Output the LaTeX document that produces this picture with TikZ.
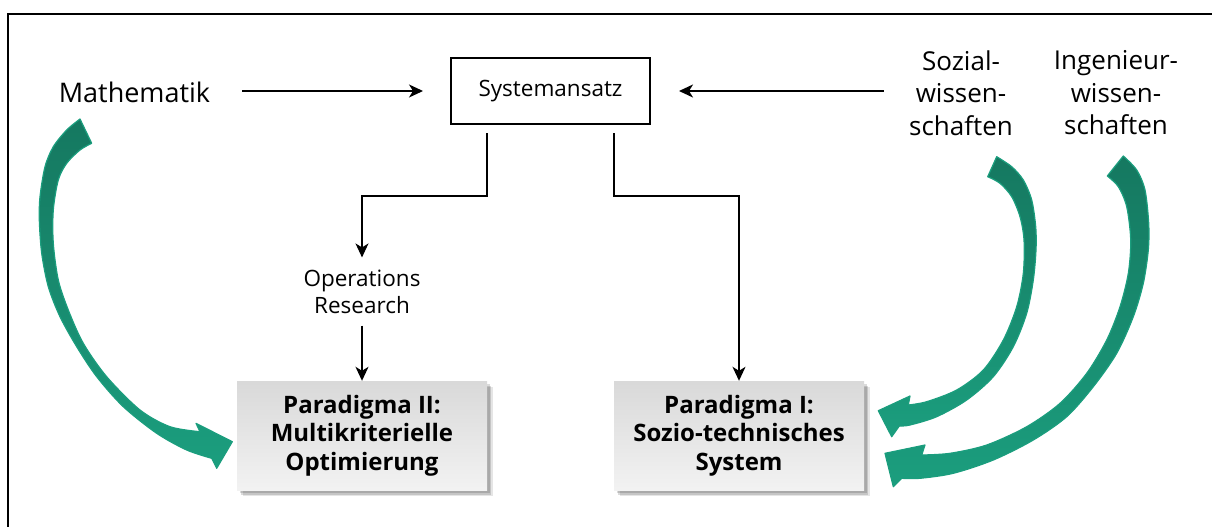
\documentclass[tikz,border=0pt]{standalone}
\usepackage{fontspec}
\setmainfont{Open Sans}
\usetikzlibrary{arrows.meta,shadows}
\definecolor{tealdark}{RGB}{21,120,96}
\definecolor{teallight}{RGB}{27,158,126}
\begin{document}
\begin{tikzpicture}[x=1pt,y=-1pt,
  conn/.style={line width=1.5pt,-{Stealth[length=14pt,width=13pt,inset=4pt]}},
  plain/.style={inner sep=0pt,align=center},
  bigtext/.style={plain,font=\fontsize{26}{32.5}\selectfont},
  midtext/.style={plain,font=\fontsize{22.5}{27}\selectfont},
  pbox/.style={minimum width=250pt,minimum height=109pt,inner sep=0pt,align=center,
    font=\bfseries\fontsize{24}{28.5}\selectfont,
    top color=black!15,bottom color=black!5,
    drop shadow={shadow xshift=2.5pt,shadow yshift=-3pt,opacity=0.14,fill=black},
    drop shadow={shadow xshift=4pt,shadow yshift=-4.5pt,opacity=0.14,fill=black},
    drop shadow={shadow xshift=5.5pt,shadow yshift=-6pt,opacity=0.10,fill=black}},
  greenarrow/.style={top color=tealdark,bottom color=teallight,draw=teallight,
    line width=1.2pt,line join=round},
  curve/.style={smooth,tension=0.5}
]
\useasboundingbox (0,0) rectangle (1212,527);

% frame
\draw[line width=2pt] (8.2,528) -- (8.2,14.3) -- (1213,14.3);

% nodes
\node[plain,font=\fontsize{27}{32}\selectfont,inner xsep=32pt] (math) at (134.5,92) {Mathematik};
\node[draw,line width=2pt,minimum width=199pt,minimum height=66pt,
      font=\fontsize{22.5}{27}\selectfont] (sys) at (550.5,91) {Systemansatz};
\node[bigtext] (soz) at (961,93) {Sozial-\\wissen-\\schaften};
\node[bigtext] (ing) at (1116,93) {Ingenieur-\\wissen-\\schaften};
\node[midtext,inner ysep=12pt] (or) at (362,291.5) {Operations\\Research};
\node[pbox] (p2) at (362,435.5) {Paradigma II:\\Multikriterielle\\Optimierung};
\node[pbox] (p1) at (739,435.5) {Paradigma I:\\Sozio-technisches\\System};

% connectors
\draw[conn,shorten >=27pt] (math.east |- sys.west) -- (sys.west);
\draw[conn,shorten <=25pt,shorten >=28pt] (sys.east -| soz.west) -- (sys.east);
\draw[conn,shorten <=8pt] ([xshift=-63.5pt]sys.south) -- ++(0,71) -| (or.north);
\draw[conn] (or.south) -- (p2.north);
\draw[conn,shorten <=8pt] ([xshift=63.5pt]sys.south) -- ++(0,71) -| (p1.north);

% curved green arrows
\shadedraw[greenarrow]
  plot[curve] coordinates {(80,119) (66.7,130) (53.3,146.7) (45,166.7) (40,196.7) (39.3,220) (41.7,253.3)
    (48.3,286.7) (60,316.7) (76.7,346.7) (96.7,376.7) (123.3,406.7) (156.7,433.3) (186.7,450) (211.7,458.3)}
  -- (216.7,468.3) -- (232.3,441.7) -- (196,423.3) -- (200,431.7)
  -- plot[curve] coordinates {(200,431.7) (170,426.7) (140,410) (106.7,376.7) (83.3,343.3) (68.3,310)
    (58.3,280) (53.3,243.3) (53.3,210) (58.3,180) (66.7,163.3) (80,150) (91.7,143.3)}
  -- cycle;

\shadedraw[greenarrow]
  plot[curve] coordinates {(996.7,156.7) (1011.7,166.7) (1023.3,180) (1031.7,200) (1035.7,226.7) (1036,250)
    (1033.3,280) (1026.7,313.3) (1013.3,346.7) (993.3,376.7) (966.7,400) (936.7,416.7) (910,425) (899.3,426)}
  -- (891.7,436.7) -- (878.3,410.7) -- (910,396) -- (908.3,405)
  -- plot[curve] coordinates {(908.3,405) (926.7,401.7) (956.7,390) (983.3,370) (1003.3,340) (1016.7,306.7)
    (1023.3,273.3) (1024,240) (1020,216.7) (1011.7,196.7) (1000,183.3) (987.7,176.7)}
  -- cycle;

\shadedraw[greenarrow]
  plot[curve] coordinates {(1123.3,156) (1136.7,170) (1145,190) (1148.7,223.3) (1148.3,250) (1143.3,283.3)
    (1133.3,316.7) (1116.7,353.3) (1093.3,386.7) (1066.7,416.7) (1033.3,440) (993.3,460) (953.3,473.3)
    (920,478.3) (901.7,478.3)}
  -- (893.3,486.7) -- (885,453.3) -- (925,445) -- (921.7,455)
  -- plot[curve] coordinates {(921.7,455) (950,453.3) (986.7,445) (1026.7,426.7) (1060,403.3) (1086.7,373.3)
    (1106.7,340) (1120,306.7) (1128.3,273.3) (1130.7,240) (1126.7,206.7) (1118.3,186.7) (1107.3,176)}
  -- cycle;
\end{tikzpicture}
\end{document}
